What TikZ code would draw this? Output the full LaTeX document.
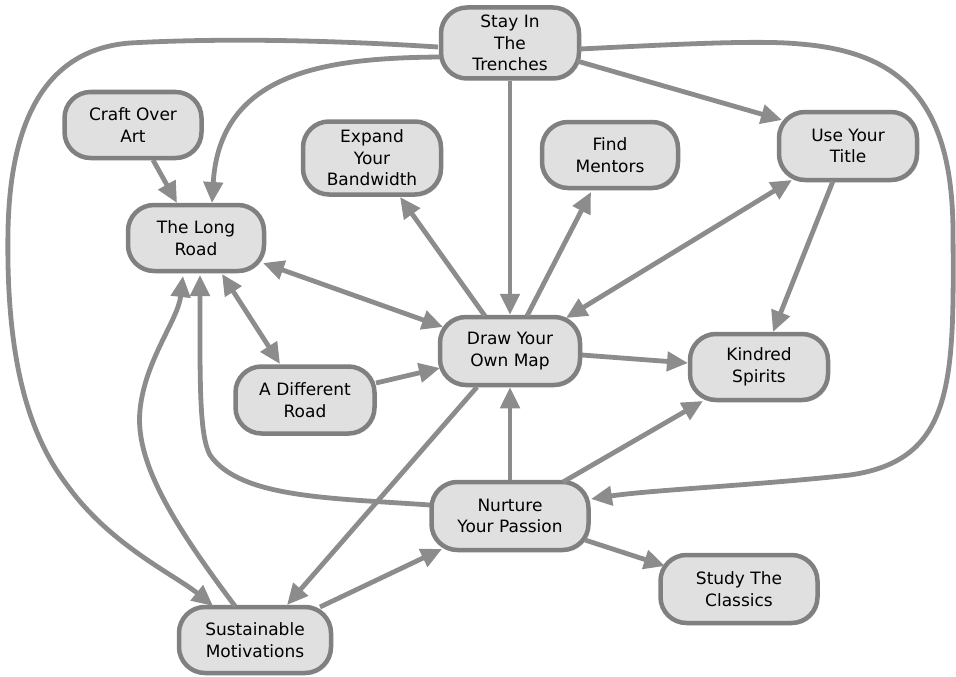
\documentclass[tikz,border=0pt]{standalone}
\usepackage{fontspec}
\setmainfont{DejaVu Sans}
\usetikzlibrary{arrows.meta,calc,shadows}
\definecolor{edgegray}{HTML}{8C8C8C}
\definecolor{bordergray}{HTML}{808080}
\definecolor{fillgray}{HTML}{E0E0E0}
\begin{document}
\begin{tikzpicture}[x=1pt,y=-1pt,
  box/.style={draw=bordergray, line width=4.5pt, fill=fillgray, rounded corners=26pt,
    align=center, font=\fontsize{17}{21.5}\selectfont, inner sep=0pt,
    drop shadow={shadow xshift=2pt,shadow yshift=-2pt,opacity=0.18}},
  link/.style={draw=edgegray, line width=4.8pt, -{Triangle[length=21pt,width=19pt]}},
  both/.style={draw=edgegray, line width=4.8pt, {Triangle[length=21pt,width=19pt]}-{Triangle[length=21pt,width=19pt]}}]
\useasboundingbox (0,0) rectangle (956,677);

% nodes
\node[box, minimum width=138, minimum height=71] (trench) at (510,43) {Stay In\\The\\Trenches};
\node[box, minimum width=137, minimum height=66] (craft) at (133,125) {Craft Over\\Art};
\node[box, minimum width=138, minimum height=73] (expand) at (372,158) {Expand\\Your\\Bandwidth};
\node[box, minimum width=136, minimum height=66] (find) at (610,155) {Find\\Mentors};
\node[box, minimum width=138, minimum height=68] (title) at (848,146) {Use Your\\Title};
\node[box, minimum width=136, minimum height=66] (long) at (196,238) {The Long\\Road};
\node[box, minimum width=140, minimum height=68] (draw) at (510,351) {Draw Your\\Own Map};
\node[box, minimum width=138, minimum height=66] (kindred) at (759,367) {Kindred\\Spirits};
\node[box, minimum width=139, minimum height=67] (diff) at (305,400) {A Different\\Road};
\node[box, minimum width=157, minimum height=68] (nurture) at (510,516) {Nurture\\Your Passion};
\node[box, minimum width=157, minimum height=68] (study) at (739,589) {Study The\\Classics};
\node[box, minimum width=152, minimum height=66] (sust) at (255,640) {Sustainable\\Motivations};

% connectors
\draw[link] ($(trench)+(-70,14)$) .. controls (330,58) and (220,70) .. ($(long)+(16,-35)$);
\draw[link] ($(trench)+(-72,4)$) .. controls (330,40) and (220,38) .. (130,43)
  .. controls (40,50) and (10,130) .. (8,230)
  .. controls (6,350) and (25,430) .. (67,485)
  .. controls (110,545) and (175,575) .. ($(sust)+(-42,-34)$);
\draw[link] ($(trench)+(70,6)$) .. controls (680,44) and (760,40) .. (800,44)
  .. controls (900,52) and (952,100) .. (953,230)
  .. controls (954,380) and (955,460) .. (850,475)
  .. controls (760,485) and (650,490) .. ($(nurture)+(81,-17)$);
\draw[link] ($(trench)+(67,18)$) -- ($(title)+(-66,-26)$);
\draw[link] (trench.south) -- (draw.north);
\draw[link] ($(craft)+(20,35)$) -- ($(long)+(-19,-35)$);
\draw[link] ($(draw)+(-25,-35)$) -- ($(expand)+(28,39)$);
\draw[link] ($(draw)+(17,-35)$) -- ($(find)+(-19,37)$);
\draw[both] ($(draw)+(56,-33)$) -- ($(title)+(-56,34)$);
\draw[link] ($(title)+(-15,35)$) -- ($(kindred)+(14,-35)$);
\draw[link] ($(draw)+(72,4)$) -- ($(kindred)+(-71,-4)$);
\draw[both] ($(long)+(67,25)$) -- ($(draw)+(-67,-24)$);
\draw[both] ($(long)+(26,36)$) -- ($(diff)+(-25,-36)$);
\draw[link] ($(diff)+(71,-17)$) -- ($(draw)+(-70,17)$);
\draw[link] ($(draw)+(-33,36)$) -- ($(sust)+(32,-35)$);
\draw[link] (nurture.north) -- (draw.south);
\draw[link] ($(nurture)+(53,-34)$) -- ($(kindred)+(-56,34)$);
\draw[link] ($(nurture)+(75,24)$) -- ($(study)+(-74,-23)$);
\draw[link] ($(sust)+(65,-33)$) -- ($(nurture)+(-68,33)$);
\draw[link] ($(nurture)+(-80,-11)$) .. controls (330,498) and (240,498) .. (210,455)
  .. controls (199,435) and (200,380) .. ($(long)+(4,37)$);
\draw[link] ($(sust)+(-20,-34)$) .. controls (170,520) and (135,460) .. (140,410)
  .. controls (145,360) and (178,320) .. ($(long)+(-13,38)$);
\end{tikzpicture}
\end{document}
